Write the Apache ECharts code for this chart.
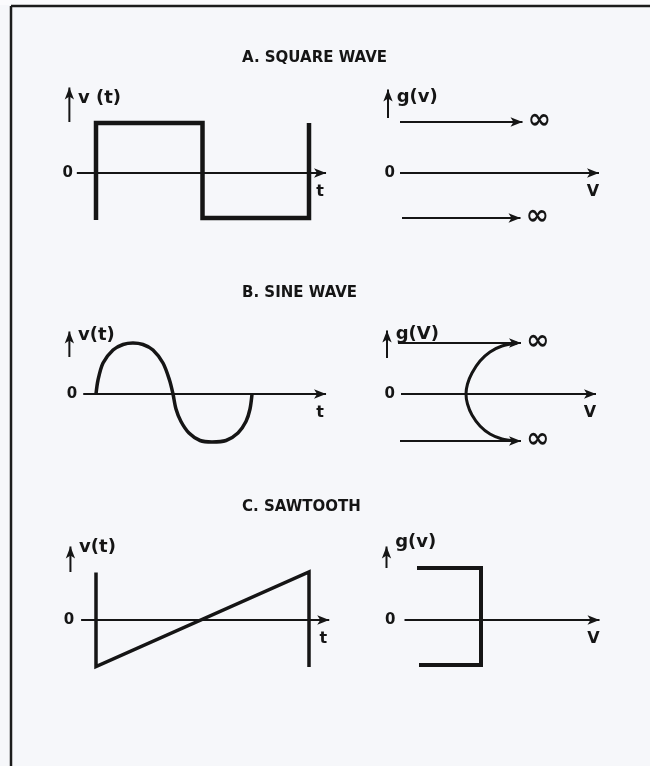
<!DOCTYPE html>
<html>
<head>
<meta charset="utf-8">
<script src="https://cdn.jsdelivr.net/npm/echarts@6/dist/echarts.min.js"></script>
<style>html,body{margin:0;padding:0;background:#f6f7fa}#c{width:650px;height:766px}</style>
</head>
<body>
<div id="c"></div>
<script>
// ---------- texts ----------
const titles = ['A. SQUARE WAVE', 'B. SINE WAVE', 'C. SAWTOOTH'];
const waveLabels = ['v (t)', 'v(t)', 'v(t)'];
const densityLabels = ['g(v)', 'g(V)', 'g(v)'];
const zeroLabel = '0';
const timeLabel = 't';
const levelLabel = 'V';
const infLabel = '\u221E';

// ---------- left panels: v(t)  (t in square-wave half periods, v in amplitude units) ----------
const timeAxisFrom = [-0.18, -0.12, -0.14];
const timeAxisTo = [2.16, 2.16, 2.19];
const waveArrowT = [-0.25, -0.25, -0.24];
const waveArrowFrom = [1.02, 0.74, 0.96];
const waveArrowTo = [1.71, 1.25, 1.47];

const squareT = [0, 0, 1, 1, 2, 2];
const squareV = [-0.94, 1, 1, -0.9, -0.9, 1];

const sineT = [0, 0.019, 0.066, 0.16, 0.254, 0.347, 0.441, 0.535, 0.629, 0.69, 0.723,
               0.751, 0.798, 0.873, 0.977, 1.089, 1.221, 1.333, 1.408, 1.446, 1.465];
const sineV = [0, 0.28, 0.62, 0.88, 0.99, 1.02, 0.99, 0.88, 0.62, 0.28, 0,
               -0.3, -0.55, -0.78, -0.93, -0.96, -0.93, -0.78, -0.55, -0.3, 0];

const sawT = [0, 0, 2, 2];
const sawV = [0.95, -0.93, 0.96, -0.94];

// ---------- right panels: g(v)  (g horizontal, v vertical) ----------
const levelAxisFrom = [0, 0.02, 0.09];
const levelAxisTo = [3.98, 3.92, 3.99];
const densArrowG = [-0.24, -0.26, -0.27];
const densArrowFrom = [1.1, 0.72, 1.04];
const densArrowTo = [1.67, 1.27, 1.47];

const squareSpikeV = [1.02, -0.9];
const squareSpikeFrom = [0, 0.04];
const squareSpikeTo = [2.45, 2.41];

const sineSpikeV = [1.02, -0.94];
const sineSpikeFrom = [-0.04, 0];
const sineSpikeTo = [2.42, 2.42];
const sineDensityG = [2.34, 2.04, 1.80, 1.60, 1.44, 1.35, 1.32, 1.35, 1.44, 1.60, 1.80, 2.04, 2.30];
const sineDensityV = [1.02, 0.96, 0.84, 0.66, 0.42, 0.2, 0, -0.2, -0.42, -0.64, -0.80, -0.90, -0.94];

const sawDensityG = [0.34, 1.62, 1.62, 0.38];
const sawDensityV = [1.04, 1.04, -0.9, -0.9];

// ---------- layout / style ----------
const INK = '#151515';
const FONT = 'DejaVu Sans';
const rowZero = [173, 394, 620];
const titleTop = [51, 286, 500];
const PX_T = 106.5, PX_V = 50, PX_G = 50;
const LEFT_T0 = 96, RIGHT_G0 = 400;
const zeroDist = [[4, 5], [6, 6], [7, 9]];
const waveLabelShift = [5, -2, -5];
const densLabelShift = [2, -2, -10];

const zip = (a, b) => a.map((v, i) => [v, b[i]]);

function lbl(text, position, extra) {
  return Object.assign({show: true, formatter: text, position: position, color: INK,
    fontFamily: FONT, fontSize: 16, fontWeight: 'bold'}, extra || {});
}
function pt(x, y, label) {
  const o = {value: [x, y]};
  if (label) { o.symbol = 'circle'; o.symbolSize = 0; o.itemStyle = {borderWidth: 0}; o.label = label; }
  return o;
}
function tip(x, y, rot, label) {
  const o = {value: [x, y], symbol: 'arrow', symbolSize: [7, 12], symbolRotate: rot,
    itemStyle: {color: INK, borderWidth: 0}};
  if (label) o.label = label;
  return o;
}
function lineSeries(axis, data, width, extra) {
  return Object.assign({
    type: 'line', xAxisIndex: axis, yAxisIndex: axis, data: data,
    symbol: 'none', showSymbol: true, silent: true, clip: false,
    lineStyle: {color: INK, width: width, join: 'miter', cap: 'butt'},
    itemStyle: {color: INK}, emphasis: {disabled: true}, z: 3
  }, extra || {});
}

const grid = [], xAxis = [], yAxis = [], series = [], title = [];

for (let i = 0; i < 3; i++) {
  const top = rowZero[i] - 2 * PX_V;
  grid.push({left: LEFT_T0 - 0.5 * PX_T, width: 3 * PX_T, top: top, height: 3.5 * PX_V});
  grid.push({left: RIGHT_G0 - 0.5 * PX_G, width: 5 * PX_G, top: top, height: 3.5 * PX_V});
  xAxis.push({type: 'value', gridIndex: 2 * i, min: -0.5, max: 2.5, show: false});
  xAxis.push({type: 'value', gridIndex: 2 * i + 1, min: -0.5, max: 4.5, show: false});
  yAxis.push({type: 'value', gridIndex: 2 * i, min: -1.5, max: 2, show: false});
  yAxis.push({type: 'value', gridIndex: 2 * i + 1, min: -1.5, max: 2, show: false});
  title.push({text: titles[i], left: 242, top: titleTop[i], padding: 0,
    textStyle: {color: INK, fontFamily: FONT, fontSize: 15, fontWeight: 'bold'}});

  const L = 2 * i, R = 2 * i + 1;
  series.push(lineSeries(L, [
    pt(timeAxisFrom[i], 0, lbl(zeroLabel, 'left', {distance: zeroDist[i][0], fontSize: 15})),
    tip(timeAxisTo[i], 0, -90, lbl(timeLabel, 'bottom', {distance: 6}))
  ], 2));
  series.push(lineSeries(L, [
    pt(waveArrowT[i], waveArrowFrom[i]),
    tip(waveArrowT[i], waveArrowTo[i], 0, lbl(waveLabels[i], 'right', {distance: 4, offset: [0, waveLabelShift[i]], fontSize: 18}))
  ], 2));
  series.push(lineSeries(R, [
    pt(levelAxisFrom[i], 0, lbl(zeroLabel, 'left', {distance: zeroDist[i][1], fontSize: 15})),
    tip(levelAxisTo[i], 0, -90, lbl(levelLabel, 'bottom', {distance: 6}))
  ], 2));
  series.push(lineSeries(R, [
    pt(densArrowG[i], densArrowFrom[i]),
    tip(densArrowG[i], densArrowTo[i], 0, lbl(densityLabels[i], 'right', {distance: 4, offset: [0, densLabelShift[i]], fontSize: 18}))
  ], 2));
}

const infStyle = {distance: 5, fontSize: 28, offset: [0, -1]};
// A: square wave
series.push(lineSeries(0, zip(squareT, squareV), 4.5));
squareSpikeV.forEach((v, k) => {
  series.push(lineSeries(1, [pt(squareSpikeFrom[k], v),
    tip(squareSpikeTo[k], v, -90, lbl(infLabel, 'right', infStyle))], 2));
});
// B: sine wave
series.push(lineSeries(2, zip(sineT, sineV), 3.5, {smooth: 0.3}));
sineSpikeV.forEach((v, k) => {
  series.push(lineSeries(3, [pt(sineSpikeFrom[k], v),
    tip(sineSpikeTo[k], v, -90, lbl(infLabel, 'right', infStyle))], 2));
});
series.push(lineSeries(3, zip(sineDensityG, sineDensityV), 3, {smooth: 0.3}));
// C: sawtooth
series.push(lineSeries(4, zip(sawT, sawV), 3.5));
series.push(lineSeries(5, zip(sawDensityG, sawDensityV), 4));

const chart = echarts.init(document.getElementById('c'), null, {renderer: 'canvas', width: 650, height: 766});
chart.setOption({
  animation: false,
  backgroundColor: '#f6f7fa',
  title: title,
  grid: grid,
  xAxis: xAxis,
  yAxis: yAxis,
  series: series,
  graphic: [
    {type: 'rect', shape: {x: 0, y: 0, width: 650, height: 5}, style: {fill: '#fbfbfd'}, silent: true},
    {type: 'line', shape: {x1: 11, y1: 6, x2: 650, y2: 6}, style: {stroke: '#1c1c1c', lineWidth: 2.5}, silent: true},
    {type: 'line', shape: {x1: 11, y1: 6, x2: 11, y2: 766}, style: {stroke: '#1c1c1c', lineWidth: 2.5}, silent: true}
  ]
});
</script>
</body>
</html>
